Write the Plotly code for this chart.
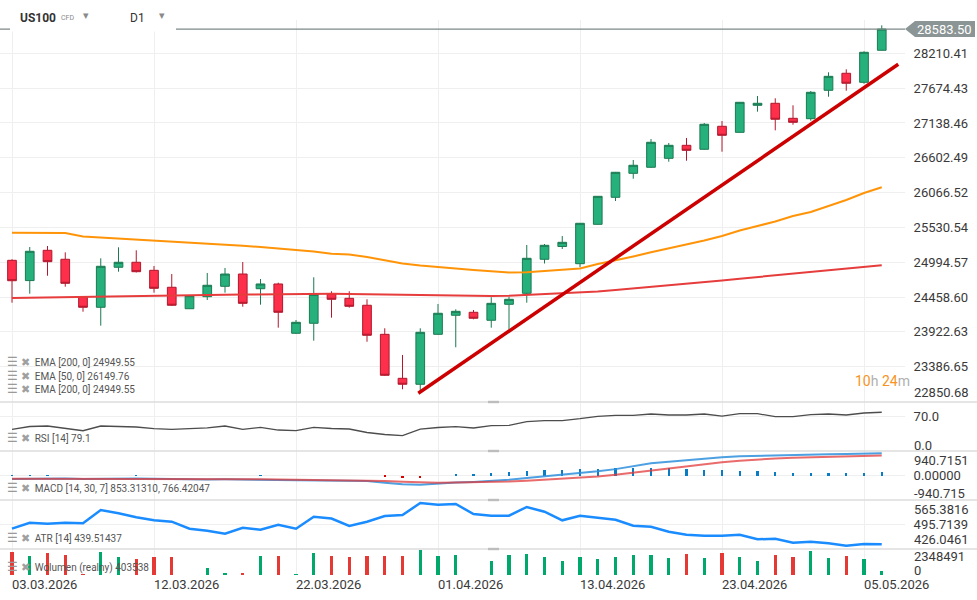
import plotly.graph_objects as go
from plotly.subplots import make_subplots

# ---------------- data ----------------
opens = [25024, 24712, 25178, 25040, 24455, 24301, 24917, 24994, 24870, 24609,
         24279, 24464, 24624, 24813, 24587, 24660, 23901, 24055, 24506, 24439,
         24332, 23885, 23208, 23116, 23885, 24178, 24224, 24101, 24347, 24516,
         25040, 25237, 24972, 25578, 25994, 26363, 26456, 26594, 26794, 26733,
         27087, 26994, 27410, 27441, 27210, 27204, 27641, 27903, 27764, 28257]
highs = [25040, 25229, 25244, 25147, 24467, 25055, 25224, 25178, 24937, 24813,
         24485, 24829, 24906, 24998, 24736, 24680, 24105, 24763, 24547, 24547,
         24424, 23978, 23567, 23978, 24352, 24270, 24259, 24455, 24464, 25260,
         25275, 25398, 25598, 26014, 26384, 26568, 26891, 26830, 26907, 27138,
         27168, 27461, 27553, 27518, 27410, 27630, 27918, 27964, 28241, 28641]
lows = [24372, 24510, 24787, 24618, 24233, 24018, 24849, 24837, 24526, 24321,
        24275, 24413, 24526, 24310, 24341, 23987, 23893, 23787, 24141, 24295,
        23771, 23246, 23039, 23002, 23877, 23685, 24116, 23987, 23962, 24372,
        24975, 25198, 24917, 25575, 25937, 26280, 26448, 26542, 26557, 26725,
        26696, 26991, 27312, 27025, 27111, 27173, 27542, 27635, 27742, 28254]
closes = [24710, 25163, 25003, 24670, 24301, 24932, 24994, 24849, 24593, 24332,
          24479, 24640, 24813, 24362, 24660, 24224, 24070, 24501, 24424, 24316,
          23870, 23254, 23116, 23916, 24209, 24239, 24132, 24362, 24424, 25055,
          25255, 25301, 25594, 26009, 26379, 26487, 26841, 26794, 26717, 27118,
          26948, 27456, 27441, 27195, 27148, 27610, 27856, 27749, 28226, 28583.50]

ema50 = [25449, 25449, 25449, 25444, 25391, 25375, 25363, 25349, 25337, 25317,
         25298, 25283, 25267, 25249, 25229, 25206, 25178, 25160, 25124, 25114,
         25075, 25029, 24975, 24944, 24916, 24898, 24875, 24852, 24836, 24839,
         24860, 24875, 24898, 24967, 25021, 25083, 25147, 25206, 25275, 25329,
         25398, 25483, 25552, 25621, 25706, 25768, 25860, 25952, 26060, 26149.76]
ema200 = [24444, 24449, 24452, 24455, 24459, 24464, 24469, 24475, 24480, 24484,
          24487, 24490, 24495, 24498, 24501, 24504, 24509, 24510, 24509, 24506,
          24501, 24495, 24490, 24486, 24481, 24478, 24475, 24475, 24478, 24490,
          24498, 24509, 24526, 24544, 24567, 24590, 24616, 24641, 24666, 24690,
          24715, 24741, 24767, 24794, 24820, 24846, 24873, 24898, 24924, 24949.55]

trend_x = [22.89, 49.93]
trend_y = [22977, 28041]

rsi = [37.9, 44.7, 45.9, 41.1, 34.5, 45.9, 45.2, 43.5, 39.4, 37.9,
       39.4, 41.5, 45.9, 37.9, 42.8, 36.2, 34.5, 42.8, 39.9, 38.6,
       30.2, 25.4, 22.5, 38.6, 42.3, 44.2, 41.1, 46.6, 47.6, 56.3,
       58.7, 58.7, 63.5, 69.3, 71.7, 71.7, 74.9, 72.5, 72.5, 74.9,
       70.0, 75.6, 75.6, 68.4, 68.4, 73.2, 74.9, 72.5, 77.3, 79.1]

macd = [-130, -120, -110, -115, -135, -125, -115, -115, -125, -140,
        -150, -150, -145, -155, -155, -170, -185, -180, -185, -195,
        -210, -280, -335, -355, -300, -270, -245, -210, -165, -100,
        -40, 15, 75, 160, 245, 360, 470, 530, 590, 650,
        700, 740, 760, 770, 775, 795, 815, 825, 840, 853.31310]
signal = [-120, -120, -118, -117, -120, -121, -120, -119, -120, -124,
          -130, -134, -137, -141, -145, -151, -160, -165, -170, -176,
          -185, -210, -240, -265, -275, -273, -268, -255, -235, -205,
          -170, -130, -90, -40, 30, 110, 200, 280, 355, 430,
          505, 570, 620, 655, 685, 705, 725, 740, 755, 766.42047]
macd_hist = [15, 15, 15, 0, 0, 0, 0, 10, 0, 0,
             0, 0, 0, 0, 10, 0, 0, 0, 0, 0,
             0, -25, -78, -78, 0, 25, 25, 78, 117, 156,
             195, 195, 233, 233, 272, 272, 272, 272, 233, 195,
             195, 156, 156, 117, 78, 78, 78, 78, 78, 117]

atr = [483.8, 500.8, 498.0, 500.8, 499.1, 536.9, 527.6, 516.2, 507.6, 503.7,
       483.8, 478.1, 469.5, 486.6, 480.9, 495.1, 483.8, 517.9, 512.8, 491.4,
       503.7, 519.9, 522.7, 556.8, 552.0, 554.0, 525.6, 520.7, 520.7, 545.5,
       532.1, 507.6, 520.7, 515.0, 509.3, 492.3, 489.4, 475.2, 466.7, 463.8,
       463.8, 466.7, 453.6, 455.3, 443.9, 446.8, 442.2, 435.4, 440.2, 439.51437]

volume = [2070000, 1690000, 1970000, 1780000, 60000, 2070000, 1600000, 1410000, 1600000, 1600000,
          0, 660000, 190000, 100000, 1690000, 1690000, 50000, 1970000, 1720000, 1630000,
          1720000, 1720000, 1720000, 2250000, 1720000, 1780000, 0, 1310000, 1780000, 1880000,
          1630000, 1310000, 1630000, 1410000, 1630000, 1780000, 1780000, 1500000, 1880000, 1500000,
          1970000, 1630000, 1310000, 1780000, 1630000, 2160000, 1500000, 1690000, 1410000, 403538]

tick_idx = [0, 8, 16, 24, 32, 40, 48]
tick_labels = ["03.03.2026", "12.03.2026", "22.03.2026", "01.04.2026",
               "13.04.2026", "23.04.2026", "05.05.2026"]
price_ticks = [22850.68, 23386.65, 23922.63, 24458.60, 24994.57, 25530.54,
               26066.52, 26602.49, 27138.46, 27674.43, 28210.41]
rsi_range = [0.0, 70.0]
macd_range = [-940.715, 940.7151]
atr_ticks = [426.0461, 495.7139, 565.3816]
vol_max = 2348491

symbol = "US100"
timeframe = "D1"
countdown = ("10", "24")

# ---------------- layout helpers ----------------
W, H = 977, 600
def px(v):
    return v / W
def py(v):
    return 1 - v / H

idx = list(range(len(opens)))
XD = px(905)
XR = [-0.676, 50.31]
YR = [22843.2, 28723.0]
FONT = "Roboto"
GREEN, GREEN_D = "#26b07b", "#1b7a52"
RED, RED_D = "#fd2f4a", "#b1182d"

fig = make_subplots(rows=5, cols=1, shared_xaxes=True, vertical_spacing=0)

fig.add_trace(go.Candlestick(
    x=idx, open=opens, high=highs, low=lows, close=closes,
    increasing=dict(line=dict(color=GREEN_D, width=1), fillcolor=GREEN),
    decreasing=dict(line=dict(color=RED_D, width=1), fillcolor=RED),
    whiskerwidth=0, showlegend=False), row=1, col=1)
fig.add_trace(go.Scatter(x=idx, y=ema200, mode="lines",
                         line=dict(color="#e63c3c", width=2), showlegend=False), row=1, col=1)
fig.add_trace(go.Scatter(x=idx, y=ema50, mode="lines",
                         line=dict(color="#ff9408", width=2), showlegend=False), row=1, col=1)
fig.add_trace(go.Scatter(x=trend_x, y=trend_y, mode="lines",
                         line=dict(color="#cc0000", width=3.5), showlegend=False), row=1, col=1)

fig.add_trace(go.Scatter(x=idx, y=rsi, mode="lines",
                         line=dict(color="#4d4d4d", width=1.3), showlegend=False), row=2, col=1)

hist_colors = ["#0a7cc4" if v >= 0 else "#d90000" for v in macd_hist]
fig.add_trace(go.Bar(x=idx, y=macd_hist, marker=dict(color=hist_colors, line=dict(width=0)),
                     width=0.14, showlegend=False), row=3, col=1)
fig.add_trace(go.Scatter(x=idx, y=macd, mode="lines", opacity=0.85,
                         line=dict(color="#2e90dc", width=2), showlegend=False), row=3, col=1)
fig.add_trace(go.Scatter(x=idx, y=signal, mode="lines", opacity=0.75,
                         line=dict(color="#e23a3a", width=2), showlegend=False), row=3, col=1)

fig.add_trace(go.Scatter(x=idx, y=atr, mode="lines",
                         line=dict(color="#1a8cff", width=2.5), showlegend=False), row=4, col=1)

vol_colors = ["#00a86b" if c >= o else "#e53935" for o, c in zip(opens, closes)]
fig.add_trace(go.Bar(x=idx, y=volume, marker=dict(color=vol_colors, line=dict(width=0)),
                     width=0.17, showlegend=False), row=5, col=1)

# ---------------- axes ----------------
domains = [(20, 402), (402, 451), (451, 500), (500, 549), (549, 575)]
for i, (top, bot) in enumerate(domains, start=1):
    fig.update_layout({
        f"xaxis{'' if i == 1 else i}": dict(
            domain=[0, XD], range=XR, tickmode="array", tickvals=tick_idx,
            ticktext=tick_labels, showticklabels=(i == 5), showgrid=True,
            gridcolor="#efefef", gridwidth=1, zeroline=False, showline=False,
            ticks="", rangeslider=dict(visible=False), automargin=False,
            ticklabelposition="outside right",
            tickfont=dict(family=FONT, size=13, color="#3a3a3a")),
        f"yaxis{'' if i == 1 else i}": dict(
            domain=[py(bot), py(top)], side="right", zeroline=False, showline=False,
            showgrid=True, gridcolor="#efefef", ticks="outside", ticklen=5,
            tickcolor="rgba(0,0,0,0)", automargin=False,
            tickfont=dict(family=FONT, size=13, color="#3a3a3a")),
    })

fig.update_layout(
    yaxis=dict(range=YR, tickmode="array", tickvals=price_ticks,
               ticktext=["" if v == price_ticks[0] else f"{v:.2f}" for v in price_ticks]),
    yaxis2=dict(range=[-14.5, 103.9], tickmode="array", tickvals=[rsi_range[1]],
                ticktext=[f"{rsi_range[1]:.1f}"]),
    yaxis3=dict(range=macd_range, tickmode="array", tickvals=[0], ticktext=["0.00000"]),
    yaxis4=dict(range=[atr_ticks[0], atr_ticks[2]], tickmode="array",
                tickvals=[atr_ticks[1]], ticktext=[f"{atr_ticks[1]:.4f}"]),
    yaxis5=dict(range=[0, vol_max], tickmode="array", tickvals=[], showgrid=False),
)

# ---------------- shapes ----------------
shapes = []
last_close = closes[-1]
shapes.append(dict(type="line", xref="paper", yref="y", x0=0, x1=XD,
                   y0=last_close, y1=last_close, line=dict(color="#7d8787", width=1.2)))
# header background
shapes.append(dict(type="rect", xref="paper", yref="paper", x0=px(10), x1=px(176),
                   y0=py(31.5), y1=py(0), fillcolor="white", line=dict(width=0)))
# panel separators and handles
for ysep in [402, 451, 500, 549]:
    shapes.append(dict(type="line", xref="paper", yref="paper", x0=0, x1=1,
                       y0=py(ysep), y1=py(ysep), line=dict(color="#dcdcdc", width=1.5)))
    shapes.append(dict(type="rect", xref="paper", yref="paper", x0=px(488), x1=px(499),
                       y0=py(ysep + 1.2), y1=py(ysep - 1.2), fillcolor="#bdbdbd",
                       line=dict(width=0)))
# last price label box
upp = (YR[1] - YR[0]) / (402 - 20)
hh = 8 * upp
x_tip, x_base, x_right = px(905), px(915), px(975)
path = (f"M {x_tip},{last_close} L {x_base},{last_close + hh} L {x_right},{last_close + hh} "
        f"L {x_right},{last_close - hh} L {x_base},{last_close - hh} Z")
shapes.append(dict(type="path", xref="paper", yref="y", path=path,
                   fillcolor="#8b9595", line=dict(width=0)))
fig.update_layout(shapes=shapes)

# ---------------- annotations ----------------
ann = []
def text(x, y, t, size=10, color="#555", xanchor="left", yanchor="middle",
         yref="paper", bold=False, **kw):
    ann.append(dict(x=x, y=y, xref="paper", yref=yref, text=f"<b>{t}</b>" if bold else t,
                    showarrow=False, xanchor=xanchor, yanchor=yanchor,
                    font=dict(family=FONT, size=size, color=color), **kw))

text(px(944), last_close, f"{last_close:.2f}", size=13, color="white",
     xanchor="center", yref="y")
# header
text(px(18), py(18), symbol, size=12, color="#333", bold=True)
text(px(59), py(17.5), "CFD", size=7, color="#8a8a8a")
text(px(81), py(16), "▾", size=11, color="#8a8a8a")
text(px(128), py(18), timeframe, size=12, color="#333")
text(px(157), py(16), "▾", size=11, color="#8a8a8a")
# countdown
text(px(853), py(381),
     f'<span style="color:#f7931e">{countdown[0]}</span><span style="color:#b0b0b0">h</span> '
     f'<span style="color:#f7931e">{countdown[1]}</span><span style="color:#b0b0b0">m</span>',
     size=14)

ICON = ('<span style="color:#9a9a9a;font-size:12px">☰</span>'
        '<span style="color:#a0a0a0;font-size:11px"> ✖</span>  ')
text(px(5), py(362), ICON + f"EMA [200, 0] {ema200[-1]:.2f}")
text(px(5), py(376), ICON + f"EMA [50, 0] {ema50[-1]:.2f}")
text(px(5), py(389), ICON + f"EMA [200, 0] {ema200[-1]:.2f}")
text(px(5), py(438), ICON + f"RSI [14] {rsi[-1]:.1f}")
text(px(5), py(488), ICON + f"MACD [14, 30, 7] {macd[-1]:.5f}, {signal[-1]:.5f}")
text(px(5), py(538), ICON + f"ATR [14] {atr[-1]:.5f}")
text(px(5), py(567), ICON + f"Wolumen (realny) {volume[-1]}")

# right-hand edge labels
RX = px(912)
text(RX, price_ticks[0], f"{price_ticks[0]:.2f}", size=13, color="#3a3a3a",
     yref="y", yanchor="bottom")
text(RX, rsi_range[0], f"{rsi_range[0]:.1f}", size=13, color="#3a3a3a", yref="y2")
text(RX, macd_range[1], f"{macd_range[1]:.4f}", size=13, color="#3a3a3a",
     yref="y3", yanchor="top")
text(RX, macd_range[0], f"{macd_range[0]:.3f}", size=13, color="#3a3a3a",
     yref="y3", yanchor="bottom", yshift=-3)
text(RX, atr_ticks[2], f"{atr_ticks[2]:.4f}", size=13, color="#3a3a3a",
     yref="y4", yanchor="top")
text(RX, atr_ticks[0], f"{atr_ticks[0]:.4f}", size=13, color="#3a3a3a",
     yref="y4", yanchor="bottom")
text(RX, vol_max, f"{vol_max}", size=13, color="#3a3a3a", yref="y5", yanchor="top",
     yshift=2)
text(RX, 0, "0", size=13, color="#3a3a3a", yref="y5", yanchor="bottom", yshift=-5)

fig.update_layout(
    annotations=ann,
    width=W, height=H, autosize=False,
    margin=dict(l=0, r=0, t=0, b=0, autoexpand=False),
    paper_bgcolor="white", plot_bgcolor="white",
    showlegend=False, bargap=0,
    font=dict(family=FONT),
)

fig.write_html(
    "out.html",
    config={"displayModeBar": False},
    post_script="document.body.style.margin='0';document.body.style.overflow='hidden';",
)
